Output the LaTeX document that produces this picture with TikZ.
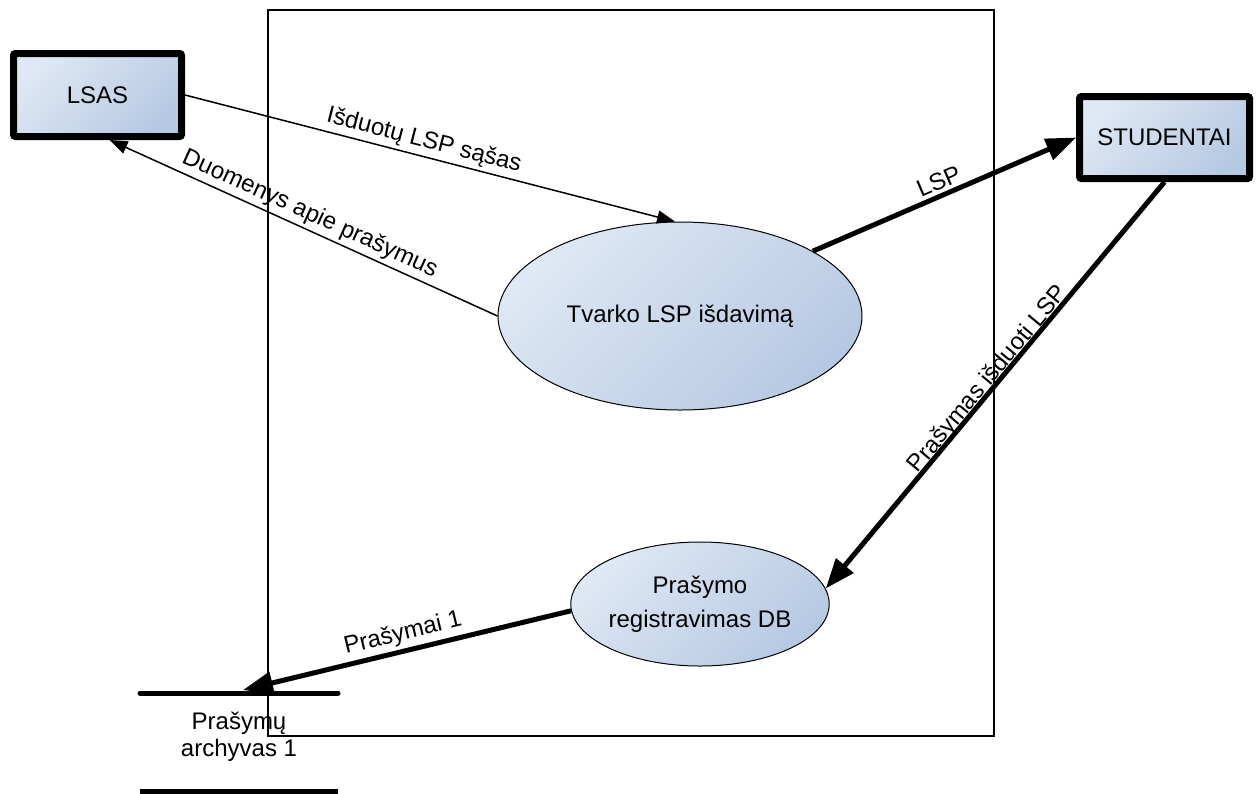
\documentclass[tikz,border=0pt]{standalone}
\usepackage{fontspec}
\setmainfont{Liberation Sans}
\usetikzlibrary{arrows.meta,shapes.geometric}
\definecolor{fillA}{RGB}{223,232,244}
\definecolor{fillB}{RGB}{182,201,227}

\begin{document}
\begin{tikzpicture}[x=1pt,y=-1pt,
  every node/.style={font=\fontsize{24}{28}\selectfont},
  entity/.style={draw, line width=7pt, rounded corners=2pt,
    top color=fillA, bottom color=fillB, shading angle=45,
    minimum width=168pt, minimum height=83pt, inner sep=0pt},
  proc/.style={ellipse, draw, line width=1pt,
    top color=fillA, bottom color=fillB, shading angle=45,
    inner sep=0pt, align=center},
  flow/.style={line width=1.5pt, -{Triangle[length=18pt,width=13pt]}},
  bigflow/.style={line width=5pt, -{Triangle[length=30pt,width=22pt]}},
  lbl/.style={sloped, above}]
\useasboundingbox (0,0) rectangle (1258,793);

% system boundary
\node[draw, line width=1.5pt, minimum width=726pt, minimum height=726pt,
  inner sep=0pt] (boundary) at (631,373) {};

% external entities
\node[entity] (lsas) at (97.5,95) {LSAS};
\node[entity, minimum width=170pt, minimum height=82pt] (stud) at (1164.5,137.5) {STUDENTAI};

% processes
\node[proc, minimum width=364pt, minimum height=188pt] (tvarko) at (680,316) {Tvarko LSP išdavimą};
\node[proc, minimum width=254pt, minimum height=124pt,
  font=\fontsize{24}{34}\selectfont] (reg) at (700,604) {Prašymo\\registravimas DB};

% data store
\node[align=center, font=\fontsize{24}{27}\selectfont] (store) at (239,737) {Prašymų\\archyvas 1};
\draw[line width=5pt, line cap=round] (140,693) -- (338,693);
\draw[line width=5pt] (140,791) -- (338,791);
\coordinate (storein) at (243,690);

% data flows
\draw[flow] (lsas.east) -- node[lbl, pos=0.48] {Išduotų LSP sąšas} (tvarko.93);
\draw[flow] (tvarko.west) -- node[lbl, pos=0.5] {Duomenys apie prašymus} (lsas.-75);
\draw[bigflow] (tvarko.26) -- node[lbl, pos=0.5] {LSP} (stud.west);
\draw[bigflow] (stud.south) -- node[lbl, pos=0.50, above=-8pt] {Prašymas išduoti LSP} (reg.7);
\draw[bigflow] (reg.183) -- node[lbl, pos=0.50] {Prašymai 1} (storein);
\end{tikzpicture}
\end{document}
